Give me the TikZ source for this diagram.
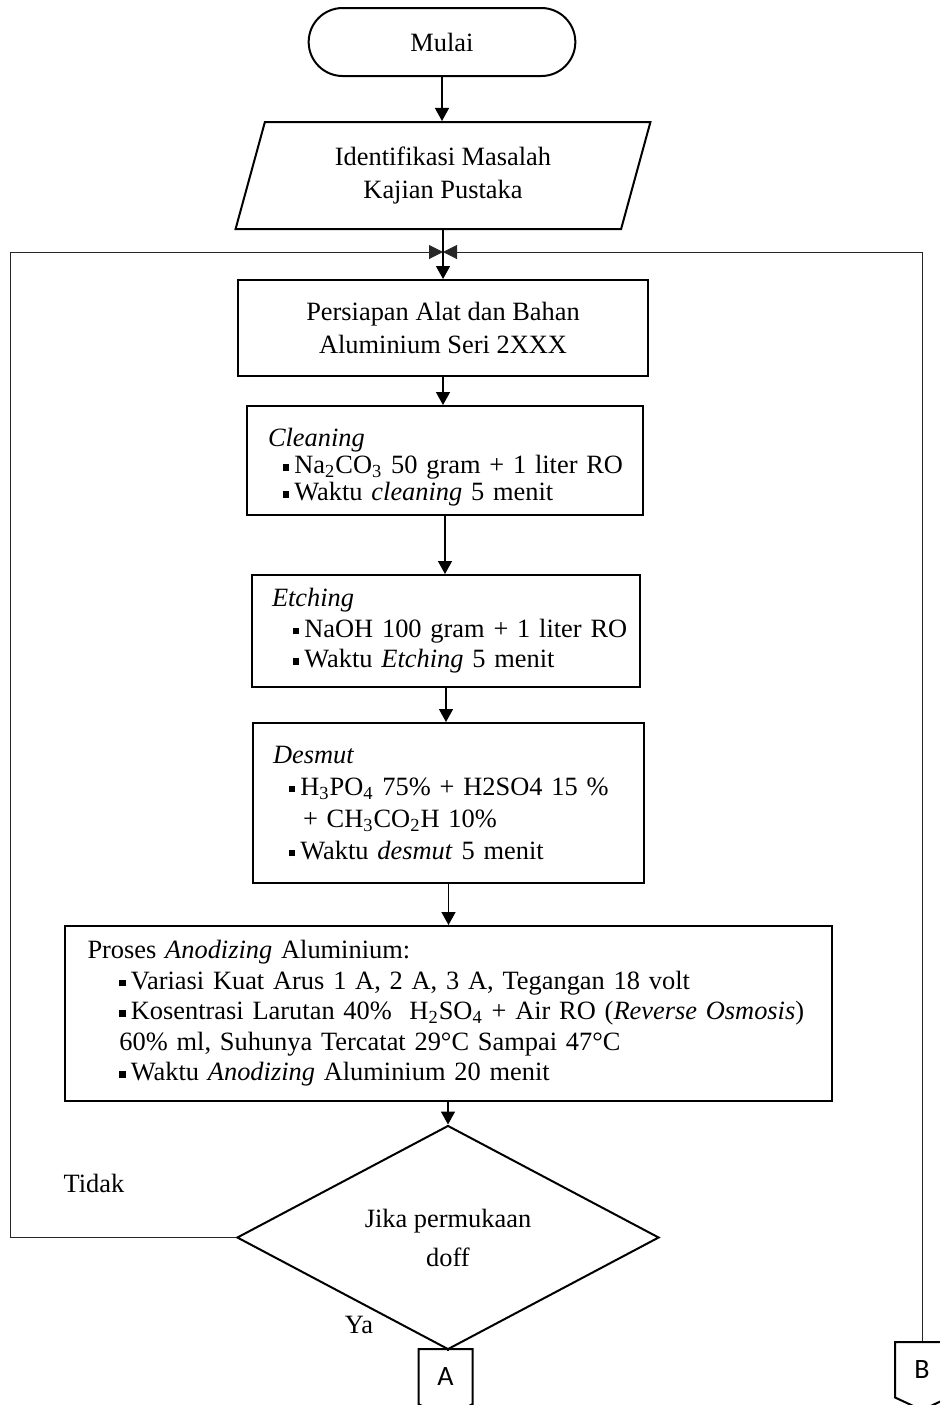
\documentclass[tikz,border=0pt]{standalone}
\usepackage{fontspec}
\setmainfont{Liberation Serif}
\newfontfamily\connfont{Carlito}
\usetikzlibrary{arrows.meta,positioning,shapes.geometric,shapes.misc,shapes.symbols}
\newcommand{\bul}{\rule[0.25ex]{3.2pt}{3.2pt}\hspace{2.5pt}}

\begin{document}
\begin{tikzpicture}[x=0.5pt, y=-0.5pt, font=\fontsize{13.2}{16.5}\selectfont,
  arr/.style={-{Triangle[length=6.5pt,width=7pt]}, line width=0.7pt},
  back line/.style={-{Triangle[length=7pt,width=7pt]}, line width=0.5pt, draw=black!85},
  term node/.style={rounded rectangle, draw, line width=1pt, minimum width=140pt, minimum height=34pt},
  io node/.style={trapezium, trapezium left angle=75, trapezium right angle=105, trapezium stretches, draw, line width=1pt, minimum width=207.5pt, minimum height=53.5pt, align=center},
  proc node/.style={rectangle, draw, line width=1pt, align=left, inner ysep=0pt},
  dec node/.style={diamond, draw, line width=1pt, minimum width=211pt, minimum height=90.5pt, inner sep=0pt, align=center},
  conn node/.style={signal, signal to=south, signal pointer angle=130, draw, line width=1pt, minimum width=27pt, minimum height=29.5pt, inner sep=0pt, anchor=north, font=\connfont\fontsize{14}{14}\selectfont}]
\useasboundingbox (0,0) rectangle (939,1405);
\begin{scope}
\node[term node] (mulai) at (442,42) {Mulai};
\node[io node] (ident) at (443,175.5) {Identifikasi Masalah\\Kajian Pustaka};
\node[proc node, align=center, minimum width=205pt, minimum height=48pt] (siap) at (443,328) {Persiapan Alat dan Bahan\\Aluminium Seri 2XXX};
\node[proc node, inner xsep=10.5pt, text width=177pt, minimum height=54.5pt, font=\fontsize{13.2}{13.5}\selectfont] (clean) at (445,460.5) {\rule{0pt}{16pt}\textit{Cleaning}\\
  \mbox{\hspace*{7.5pt}\bul Na\textsubscript{2}CO\textsubscript{3} 50 gram + 1 liter RO}\\
  \mbox{\hspace*{7.5pt}\bul Waktu \textit{cleaning} 5 menit}};
\node[proc node, inner xsep=10pt, text width=174pt, minimum height=56pt, font=\fontsize{13.2}{15.2}\selectfont] (etch) at (446,631) {\textit{Etching}\\
  \mbox{\hspace*{10.5pt}\bul NaOH 100 gram + 1 liter RO}\\
  \mbox{\hspace*{10.5pt}\bul Waktu \textit{Etching} 5 menit}};
\node[proc node, inner xsep=10pt, text width=175.5pt, minimum height=80pt, font=\fontsize{13.2}{16}\selectfont] (desmut) at (448.5,803) {\textit{Desmut}\\
  \mbox{\hspace*{8pt}\bul H\textsubscript{3}PO\textsubscript{4} 75\% + H2SO4 15 \%}\\
  \mbox{\hspace*{15pt}+ CH\textsubscript{3}CO\textsubscript{2}H 10\%}\\
  \mbox{\hspace*{8pt}\bul Waktu \textit{desmut} 5 menit}};
\node[proc node, inner xsep=11.5pt, text width=360.5pt, minimum height=87.5pt, font=\fontsize{13.2}{15.25}\selectfont] (anod) at (448,1013.5) {Proses \textit{Anodizing} Aluminium:\\
  \mbox{\hspace*{16pt}\bul Variasi Kuat Arus 1 A, 2 A, 3 A, Tegangan 18 volt}\\
  \mbox{\hspace*{16pt}\bul Kosentrasi Larutan 40\%\ \ H\textsubscript{2}SO\textsubscript{4} + Air RO (\textit{Reverse Osmosis})}\\
  \mbox{\hspace*{16pt}60\% ml, Suhunya Tercatat 29°C Sampai 47°C}\\
  \mbox{\hspace*{16pt}\bul Waktu \textit{Anodizing} Aluminium 20 menit}};
\node[dec node] (cek) at (448,1237.5) {Jika permukaan\\[3pt]doff};
\node[conn node] (conA) at (445.5,1348) {A};
\node[conn node] (conB) at (922,1341) {B};
\node (tidak) at (94,1183) {Tidak};
\node (ya) at (359,1325) {Ya};
\coordinate (jn) at (443,252);
\coordinate (lc) at (10,252);
\end{scope}
\begin{scope}
\draw[arr] (mulai.south) -- (mulai.south |- ident.north);
\draw[arr] (ident.south) -- (ident.south |- siap.north);
\draw[arr] (siap.south) -- (siap.south |- clean.north);
\draw[arr] (clean.south) -- (clean.south |- etch.north);
\draw[arr] (etch.south) -- (etch.south |- desmut.north);
\draw[arr] (desmut.south) -- (desmut.south |- anod.north);
\draw[arr] (cek.north |- anod.south) -- (cek.north);
\draw[line width=0.7pt] (cek.south) -- (cek.south |- conA.north);
\draw[back line] (cek.west) -| (lc) -- (jn);
\draw[back line] (conB.north) |- (jn);
\end{scope}
\end{tikzpicture}
\end{document}
